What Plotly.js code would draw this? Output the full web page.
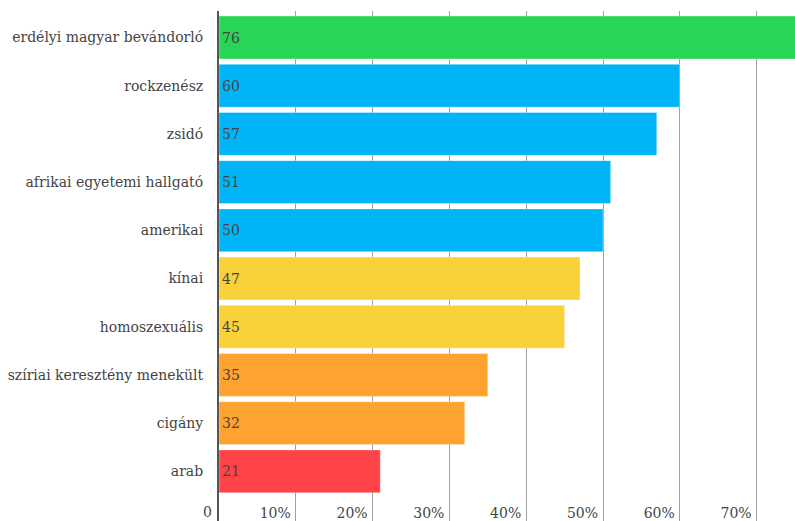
<!DOCTYPE html>
<html>
<head>
<meta charset="utf-8">
<script src="https://cdn.plot.ly/plotly-3.0.1.min.js"></script>
<style>html,body{margin:0;padding:0;background:#fff;}#chart{width:795px;height:521px;}</style>
</head>
<body>
<div id="chart"></div>
<script>
const categories = ["erdélyi magyar bevándorló","rockzenész","zsidó","afrikai egyetemi hallgató","amerikai","kínai","homoszexuális","szíriai keresztény menekült","cigány","arab"];
const values = [76,60,57,51,50,47,45,35,32,21];
const barColors = ["#26d654","#00b5f7","#00b5f7","#00b5f7","#00b5f7","#f9d23a","#f9d23a","#ffa330","#ffa330","#ff4348"];
const tickValues = [0,10,20,30,40,50,60,70];
const tickLabels = ["0","10%","20%","30%","40%","50%","60%","70%"];

const font = {family: "DejaVu Serif, serif", size: 14, color: "#444"};

Plotly.newPlot("chart", [{
  type: "bar",
  orientation: "h",
  y: categories,
  x: values,
  text: values.map(String),
  textposition: "inside",
  insidetextanchor: "start",
  textfont: {family: font.family, size: 14, color: "#444"},
  marker: {color: barColors, line: {color: "rgba(255,255,255,0.35)", width: 1}},
  hoverinfo: "none"
}], {
  width: 795, height: 521,
  margin: {l: 219, r: 0, t: 11, b: 0, pad: 0},
  paper_bgcolor: "#fff", plot_bgcolor: "#fff",
  bargap: 0.11,
  showlegend: false,
  font: font,
  xaxis: {
    range: [0, 75], fixedrange: true,
    tickvals: tickValues, ticktext: tickLabels,
    ticklabelposition: "inside left",
    ticklabelshift: -5,
    ticklabelstandoff: -6,
    showgrid: true, gridcolor: "#a0a0a0", gridwidth: 1,
    zeroline: false, showline: false,
    tickfont: font
  },
  yaxis: {
    type: "category",
    categoryorder: "array", categoryarray: categories,
    range: [10.03, -0.55], fixedrange: true,
    showline: true, linecolor: "#555", linewidth: 2,
    showgrid: false, zeroline: false,
    ticks: "", ticklabelstandoff: 11,
    tickfont: font
  },
  annotations: [{
    xref: "x", yref: "paper",
    x: tickValues[0], y: 0,
    xanchor: "right", yanchor: "bottom",
    xshift: -5, yshift: -1,
    text: tickLabels[0], showarrow: false,
    font: font
  }]
}, {staticPlot: true});
</script>
</body>
</html>
